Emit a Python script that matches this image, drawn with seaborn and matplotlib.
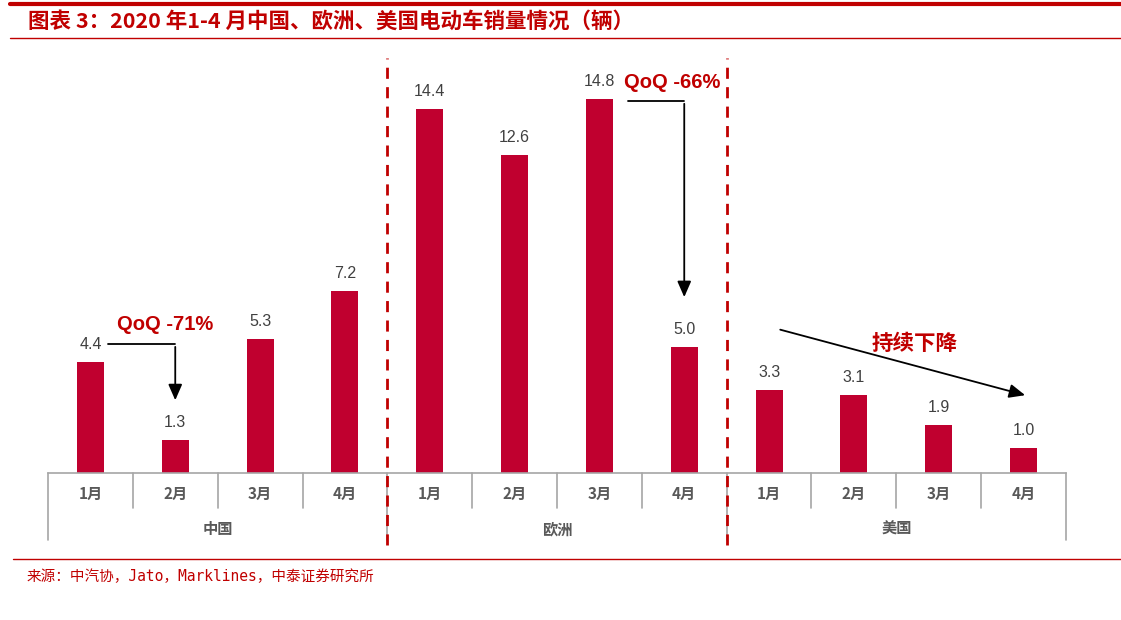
import numpy as np
import pandas as pd
import matplotlib
matplotlib.use("Agg")
import matplotlib.pyplot as plt
import seaborn as sns
from matplotlib.lines import Line2D

# data (unit: 10k vehicles)
regions = ["中国", "欧洲", "美国"]
months = ["1月", "2月", "3月", "4月"]
china = [4.4, 1.3, 5.3, 7.2]
europe = [14.4, 12.6, 14.8, 5.0]
usa = [3.3, 3.1, 1.9, 1.0]

title = "图表 3：2020 年1-4 月中国、欧洲、美国电动车销量情况（辆）"
source = "来源：中汽协，Jato，Marklines，中泰证券研究所"

RED = "#C0002F"
DARK_RED = "#C00000"
GRAY = "#A6A6A6"

sns.set_theme(style="white")
plt.rcParams["font.family"] = ["Noto Sans CJK SC", "DejaVu Sans"]

rows = []
for reg, vals in zip(regions, [china, europe, usa]):
    for m, v in zip(months, vals):
        rows.append({"region": reg, "month": m, "value": v, "key": f"{reg}-{m}"})
df = pd.DataFrame(rows)

fig = plt.figure(figsize=(11.21, 6.2), dpi=100)
ax = fig.add_axes([48 / 1121, 147 / 620, 1018 / 1121, 418 / 620])

sns.barplot(data=df, x="key", y="value", color=RED, width=0.32, ax=ax,
            saturation=1, edgecolor="none")
ax.set_xlim(-0.5, len(df) - 0.5)
ax.set_ylim(0, 16.54)
ax.set_xlabel("")
ax.set_ylabel("")
ax.set_xticks([])
ax.set_yticks([])
for s in ["top", "right", "left"]:
    ax.spines[s].set_visible(False)
ax.spines["bottom"].set_color(GRAY)
ax.spines["bottom"].set_linewidth(1.2)

# value labels
for i, v in enumerate(df["value"]):
    ax.annotate(f"{v:.1f}", (i, v), xytext=(0, 7), textcoords="offset points",
                ha="center", va="bottom", fontsize=11.5, color="#404040",
                family=["Liberation Sans", "DejaVu Sans"])

# two-level category axis
trans = ax.get_xaxis_transform()
n = len(df)
for b in np.arange(-0.5, n, 1.0):
    deep = (b + 0.5) % 4 == 0
    ax.plot([b, b], [0, -0.16 if deep else -0.084], color=GRAY, lw=1.2,
            transform=trans, clip_on=False)
for i, m in enumerate(df["month"]):
    ax.text(i, -0.05, m, transform=trans, ha="center", va="center",
            fontsize=11, fontweight="bold", color="#595959")
for g, reg in enumerate(regions):
    ax.text(g * 4 + 1.5, -0.134, reg, transform=trans, ha="center", va="center",
            fontsize=11, fontweight="bold", color="#595959")

# red dashed separators
for b in [3.5, 7.5]:
    ax.plot([b, b], [-0.172, 0.993], color="#C00000", lw=2, ls=(0, (4, 3)),
            transform=trans, clip_on=False)

# annotations
arrow_kw = dict(arrowstyle="-|>,head_length=0.8,head_width=0.35", color="black", lw=1.3)
ax.text(0.88, 5.86, "QoQ -71%", ha="center", va="center", fontsize=14.5,
        fontweight="bold", color=DARK_RED, family=["Liberation Sans", "DejaVu Sans"])
ax.plot([0.21, 1.0], [5.1, 5.1], color="black", lw=1.3)
ax.annotate("", xy=(1.0, 2.77), xytext=(1.0, 5.1), arrowprops=arrow_kw)

ax.text(6.86, 15.47, "QoQ -66%", ha="center", va="center", fontsize=14.5,
        fontweight="bold", color=DARK_RED, family=["Liberation Sans", "DejaVu Sans"])
ax.plot([6.34, 7.0], [14.72, 14.72], color="black", lw=1.3)
ax.annotate("", xy=(7.0, 6.85), xytext=(7.0, 14.72), arrowprops=arrow_kw)

ax.text(9.72, 5.14, "持续下降", ha="center", va="center", fontsize=15.5,
        fontweight="bold", color=DARK_RED)
ax.annotate("", xy=(11.05, 3.05), xytext=(8.1, 5.7), arrowprops=arrow_kw)

# header / footer
fig.add_artist(Line2D([0.009, 1.0], [1 - 4 / 620] * 2, color=DARK_RED, lw=3))
fig.add_artist(Line2D([0.009, 1.0], [1 - 38 / 620] * 2, color=DARK_RED, lw=1))
fig.text(28 / 1121, 1 - 21 / 620, title, ha="left", va="center", fontsize=15.5,
         fontweight="bold", style="italic", color=DARK_RED)
fig.add_artist(Line2D([0.012, 1.0], [1 - 559 / 620] * 2, color=DARK_RED, lw=1))
fig.text(27 / 1121, 1 - 577 / 620, source, ha="left", va="center", fontsize=10.5,
         color=DARK_RED, family=["DejaVu Sans Mono", "Noto Sans CJK SC"])

fig.savefig("out.png", dpi=100)
